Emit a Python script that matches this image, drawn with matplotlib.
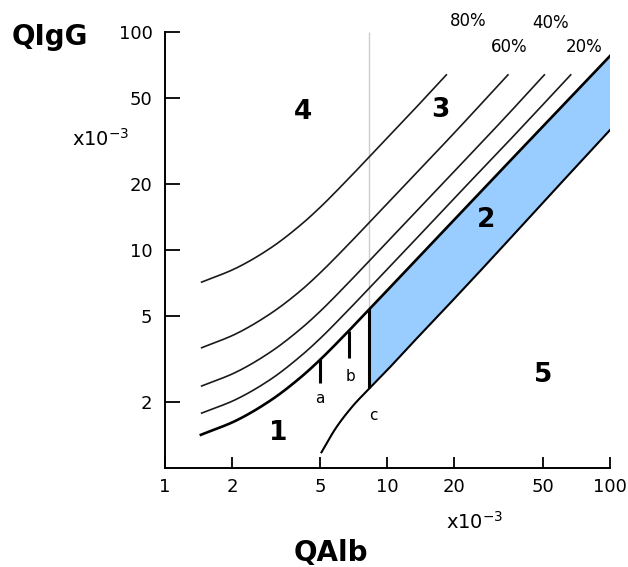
import numpy as np
import matplotlib.pyplot as plt

# values, QAlb and QIgG both in units of 1e-3
qalb_lim = [1.45, 2.1, 3.0, 4.0, 5.0, 6.7, 8.3, 12, 20, 35, 50, 67, 100]
qigg_lim = [1.42, 1.655, 2.05, 2.565, 3.15, 4.26, 5.36, 7.96, 13.8, 25.2, 36.9, 50.5, 77.6]

qalb_low = [5.05, 5.9, 7.0, 8.3, 10, 12, 18, 29, 50, 100]
qigg_low = [1.18, 1.54, 1.93, 2.32, 2.82, 3.45, 5.34, 9.0, 16.5, 35.5]

p20_x = [1.45, 2.1, 3.0, 4.0, 5.0, 6.7, 8.3, 12, 20, 35, 67]
p20_y = [1.78, 2.07, 2.56, 3.21, 3.94, 5.33, 6.7, 9.95, 17.3, 31.5, 64]
p40_x = [1.45, 2.1, 3.0, 4.0, 5.0, 6.7, 8.3, 12, 20, 33, 51]
p40_y = [2.37, 2.76, 3.42, 4.28, 5.25, 7.10, 8.93, 13.3, 23.0, 39.5, 64]
p60_x = [1.45, 2.1, 3.0, 4.0, 5.0, 6.7, 8.3, 12, 20, 35]
p60_y = [3.55, 4.14, 5.13, 6.41, 7.88, 10.65, 13.4, 19.9, 34.5, 64]
p80_x = [1.45, 2.1, 3.0, 4.0, 5.0, 6.7, 8.3, 12, 18.5]
p80_y = [7.1, 8.28, 10.25, 12.83, 15.75, 21.3, 26.8, 39.8, 64]

qalb_cut = 8.3
marks_x = [5.0, 6.7]
marks_top = [3.15, 4.26]
marks_bottom = [2.45, 3.21]
mark_names = ['a', 'b', 'c']
mark_pos = [(4.97, 2.09), (6.85, 2.64), (8.64, 1.75)]

regions = ['1', '2', '3', '4', '5']
region_pos = [(3.23, 1.44), (27.7, 13.7), (17.2, 43.9), (4.17, 43.0), (50.0, 2.67)]

pct_labels = ['80%', '60%', '40%', '20%']
pct_pos = [(23.1, 112.7), (35.1, 85.6), (54.1, 110.3), (76.6, 85.6)]

xticks = [1, 2, 5, 10, 20, 50, 100]
yticks = [2, 5, 10, 20, 50, 100]


def smooth(xs, ys, n=16, alpha=0.5):
    # centripetal catmull-rom through the read points, in log space
    P = np.column_stack([np.log10(xs), np.log10(ys)])
    P = np.vstack([2 * P[0] - P[1], P, 2 * P[-1] - P[-2]])
    out = []
    for i in range(1, len(P) - 2):
        p0, p1, p2, p3 = P[i - 1], P[i], P[i + 1], P[i + 2]
        t0 = 0.0
        t1 = t0 + np.linalg.norm(p1 - p0) ** alpha
        t2 = t1 + np.linalg.norm(p2 - p1) ** alpha
        t3 = t2 + np.linalg.norm(p3 - p2) ** alpha
        t = np.linspace(t1, t2, n, endpoint=False)[:, None]
        a1 = (t1 - t) / (t1 - t0) * p0 + (t - t0) / (t1 - t0) * p1
        a2 = (t2 - t) / (t2 - t1) * p1 + (t - t1) / (t2 - t1) * p2
        a3 = (t3 - t) / (t3 - t2) * p2 + (t - t2) / (t3 - t2) * p3
        b1 = (t2 - t) / (t2 - t0) * a1 + (t - t0) / (t2 - t0) * a2
        b2 = (t3 - t) / (t3 - t1) * a2 + (t - t1) / (t3 - t1) * a3
        out.append((t2 - t) / (t2 - t1) * b1 + (t - t1) / (t2 - t1) * b2)
    out.append(P[-2][None])
    arr = np.vstack(out)
    return 10 ** arr[:, 0], 10 ** arr[:, 1]


fig = plt.figure(figsize=(6.28, 5.67), dpi=100)
ax = fig.add_axes([0.2627, 0.1746, 0.7086, 0.769])
ax.set_xscale('log')
ax.set_yscale('log')
ax.set_xlim(1, 100)
ax.set_ylim(1, 100)

# blue band between the two limit lines right of the cut
i_lim = qalb_lim.index(qalb_cut)
i_low = qalb_low.index(qalb_cut)
bx1, by1 = smooth(qalb_lim[i_lim:], qigg_lim[i_lim:])
bx2, by2 = smooth(qalb_low[i_low:], qigg_low[i_low:])
ax.fill(np.r_[bx1, bx2[::-1]], np.r_[by1, by2[::-1]], color='#99ccff', lw=0, zorder=1)

ax.vlines(qalb_cut, qigg_lim[i_lim], 100, color='#cccccc', lw=1, zorder=1)

lc = '#1a1a1a'
for xs, ys in [(p20_x, p20_y), (p40_x, p40_y), (p60_x, p60_y), (p80_x, p80_y)]:
    sx, sy = smooth(xs, ys)
    ax.plot(sx, sy, color=lc, lw=1.2, solid_capstyle='butt', zorder=2)
sx, sy = smooth(qalb_lim, qigg_lim)
ax.plot(sx, sy, color='black', lw=1.9, zorder=3)
sx, sy = smooth(qalb_low, qigg_low)
ax.plot(sx, sy, color='black', lw=1.5, zorder=3)

ax.vlines(marks_x, marks_bottom, marks_top, color='black', lw=2.2, zorder=3)
ax.vlines(qalb_cut, qigg_low[i_low], qigg_lim[i_lim], color='black', lw=2.2, zorder=3)

for name, (x, y) in zip(mark_names, mark_pos):
    ax.text(x, y, name, ha='center', va='center', fontsize=11)
for name, (x, y) in zip(regions, region_pos):
    ax.text(x, y, name, ha='center', va='center', fontsize=19, fontweight='bold')
for name, (x, y) in zip(pct_labels, pct_pos):
    ax.text(x, y, name, ha='center', va='center', fontsize=12, clip_on=False)

for s in ['top', 'right']:
    ax.spines[s].set_visible(False)
for s in ['left', 'bottom']:
    ax.spines[s].set_linewidth(1.4)

ax.xaxis.set_minor_locator(plt.NullLocator())
ax.yaxis.set_minor_locator(plt.NullLocator())
ax.set_xticks(xticks)
ax.set_xticklabels([str(t) for t in xticks])
ax.set_yticks(yticks)
ax.set_yticklabels([str(t) for t in yticks])
ax.tick_params(axis='x', direction='in', length=8, width=1.3, pad=7, labelsize=13)
ax.tick_params(axis='y', direction='in', length=11, width=1.3, pad=9, labelsize=13)

fig.text(0.161, 0.755, r'x10$^{-3}$', ha='center', va='center', fontsize=14)
fig.text(0.756, 0.079, r'x10$^{-3}$', ha='center', va='center', fontsize=14)
fig.text(0.0796, 0.9206, 'QIgG', ha='center', va='baseline', fontsize=20, fontweight='bold')
fig.text(0.527, 0.0106, 'QAlb', ha='center', va='baseline', fontsize=20, fontweight='bold')

fig.savefig('out.png', dpi=100)
